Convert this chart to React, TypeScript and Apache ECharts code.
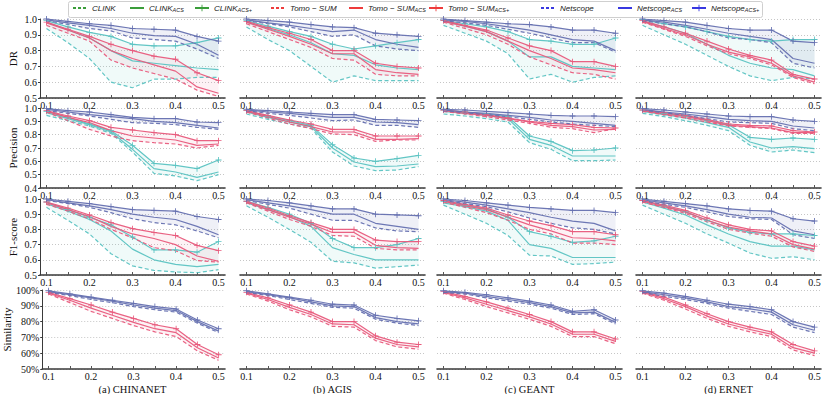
import React, { useEffect, useRef } from 'react';
import * as echarts from 'echarts';

// ---------- shared axes ----------
const X = [0.1, 0.15, 0.2, 0.25, 0.3, 0.35, 0.4, 0.45, 0.5];
const X_LABELS = [0.1, 0.2, 0.3, 0.4, 0.5];
const NETWORKS = ['(a) CHINANET', '(b) AGIS', '(c) GEANT', '(d) ERNET'];
const METRICS = ['DR', 'Precision', 'F1-score', 'Similarity'];
const Y_MIN = [0.5, 0.4, 0.5, 0.5];
const LEGEND_NAMES = [
  'CLINK', 'CLINK_ACS', 'CLINK_ACS+',
  'Tomo − SUM', 'Tomo − SUM_ACS', 'Tomo − SUM_ACS+',
  'Netscope', 'Netscope_ACS', 'Netscope_ACS+',
];

// ---------- DR ----------
const drChinanet = {
  clink: [0.94, 0.85, 0.75, 0.6, 0.565, 0.62, 0.62, 0.63, 0.63],
  clinkAcs: [0.98, 0.93, 0.88, 0.8, 0.735, 0.72, 0.705, 0.69, 0.68],
  clinkAcsPlus: [0.99, 0.95, 0.915, 0.89, 0.84, 0.83, 0.83, 0.85, 0.88],
  tomo: [0.96, 0.91, 0.86, 0.74, 0.69, 0.655, 0.62, 0.55, 0.51],
  tomoAcs: [0.975, 0.93, 0.88, 0.8, 0.75, 0.71, 0.67, 0.57, 0.53],
  tomoAcsPlus: [0.98, 0.935, 0.89, 0.84, 0.8, 0.765, 0.745, 0.66, 0.61],
  net: [0.99, 0.965, 0.94, 0.925, 0.88, 0.87, 0.86, 0.81, 0.75],
  netAcs: [0.995, 0.975, 0.96, 0.94, 0.91, 0.895, 0.89, 0.84, 0.77],
  netAcsPlus: [1.0, 0.985, 0.97, 0.96, 0.94, 0.935, 0.93, 0.89, 0.86],
};
const drAgis = {
  clink: [0.95, 0.87, 0.8, 0.7, 0.6, 0.64, 0.61, 0.61, 0.61],
  clinkAcs: [0.98, 0.94, 0.9, 0.85, 0.78, 0.77, 0.71, 0.69, 0.68],
  clinkAcsPlus: [0.99, 0.955, 0.92, 0.89, 0.84, 0.81, 0.83, 0.85, 0.87],
  tomo: [0.97, 0.92, 0.87, 0.82, 0.75, 0.74, 0.65, 0.64, 0.64],
  tomoAcs: [0.98, 0.935, 0.89, 0.84, 0.78, 0.78, 0.68, 0.66, 0.65],
  tomoAcsPlus: [0.985, 0.945, 0.91, 0.87, 0.8, 0.8, 0.72, 0.7, 0.69],
  net: [0.99, 0.97, 0.95, 0.92, 0.89, 0.9, 0.83, 0.81, 0.8],
  netAcs: [0.995, 0.975, 0.96, 0.94, 0.92, 0.93, 0.87, 0.84, 0.82],
  netAcsPlus: [1.0, 0.99, 0.98, 0.965, 0.95, 0.945, 0.91, 0.9, 0.89],
};
const drGeant = {
  clink: [0.96, 0.91, 0.86, 0.78, 0.62, 0.65, 0.6, 0.63, 0.64],
  clinkAcs: [0.985, 0.955, 0.92, 0.86, 0.76, 0.76, 0.7, 0.69, 0.68],
  clinkAcsPlus: [0.99, 0.97, 0.95, 0.92, 0.87, 0.86, 0.84, 0.84, 0.88],
  tomo: [0.98, 0.94, 0.9, 0.84, 0.76, 0.71, 0.66, 0.65, 0.62],
  tomoAcs: [0.985, 0.955, 0.92, 0.86, 0.8, 0.75, 0.69, 0.68, 0.66],
  tomoAcsPlus: [0.99, 0.96, 0.93, 0.88, 0.83, 0.8, 0.73, 0.73, 0.7],
  net: [0.99, 0.975, 0.96, 0.935, 0.91, 0.88, 0.85, 0.85, 0.79],
  netAcs: [0.995, 0.985, 0.97, 0.95, 0.93, 0.9, 0.87, 0.86, 0.8],
  netAcsPlus: [1.0, 0.99, 0.98, 0.97, 0.965, 0.95, 0.93, 0.93, 0.91],
};
const drErnet = {
  clink: [0.96, 0.9, 0.84, 0.77, 0.7, 0.64, 0.61, 0.63, 0.62],
  clinkAcs: [0.985, 0.95, 0.91, 0.84, 0.77, 0.72, 0.69, 0.68, 0.64],
  clinkAcsPlus: [0.995, 0.97, 0.95, 0.92, 0.89, 0.87, 0.86, 0.87, 0.87],
  tomo: [0.98, 0.935, 0.89, 0.83, 0.78, 0.75, 0.71, 0.63, 0.59],
  tomoAcs: [0.985, 0.94, 0.9, 0.84, 0.79, 0.76, 0.72, 0.64, 0.6],
  tomoAcsPlus: [0.99, 0.95, 0.91, 0.86, 0.81, 0.77, 0.74, 0.65, 0.62],
  net: [0.99, 0.97, 0.95, 0.92, 0.88, 0.87, 0.85, 0.72, 0.69],
  netAcs: [0.995, 0.98, 0.96, 0.935, 0.91, 0.89, 0.87, 0.75, 0.72],
  netAcsPlus: [1.0, 0.99, 0.98, 0.96, 0.94, 0.93, 0.93, 0.86, 0.85],
};

// ---------- Precision ----------
const prChinanet = {
  clink: [0.945, 0.905, 0.865, 0.81, 0.67, 0.51, 0.49, 0.455, 0.5],
  clinkAcs: [0.965, 0.92, 0.875, 0.82, 0.69, 0.545, 0.52, 0.48, 0.52],
  clinkAcsPlus: [0.975, 0.93, 0.88, 0.83, 0.72, 0.585, 0.57, 0.545, 0.61],
  tomo: [0.97, 0.905, 0.84, 0.79, 0.755, 0.74, 0.73, 0.7, 0.72],
  tomoAcs: [0.975, 0.93, 0.89, 0.83, 0.79, 0.775, 0.76, 0.72, 0.73],
  tomoAcsPlus: [0.98, 0.94, 0.905, 0.855, 0.835, 0.815, 0.8, 0.755, 0.755],
  net: [0.98, 0.96, 0.94, 0.915, 0.89, 0.885, 0.875, 0.855, 0.84],
  netAcs: [0.99, 0.97, 0.95, 0.935, 0.92, 0.9, 0.89, 0.87, 0.85],
  netAcsPlus: [0.995, 0.98, 0.97, 0.95, 0.93, 0.92, 0.92, 0.895, 0.89],
};
const prAgis = {
  clink: [0.955, 0.915, 0.88, 0.85, 0.67, 0.565, 0.53, 0.535, 0.56],
  clinkAcs: [0.97, 0.93, 0.895, 0.86, 0.7, 0.595, 0.56, 0.565, 0.58],
  clinkAcsPlus: [0.98, 0.94, 0.905, 0.87, 0.725, 0.625, 0.6, 0.62, 0.645],
  tomo: [0.97, 0.925, 0.88, 0.845, 0.805, 0.8, 0.75, 0.76, 0.76],
  tomoAcs: [0.975, 0.935, 0.895, 0.86, 0.82, 0.82, 0.765, 0.765, 0.77],
  tomoAcsPlus: [0.98, 0.945, 0.91, 0.88, 0.84, 0.84, 0.79, 0.79, 0.79],
  net: [0.98, 0.96, 0.945, 0.925, 0.905, 0.91, 0.87, 0.87, 0.855],
  netAcs: [0.985, 0.97, 0.96, 0.945, 0.93, 0.93, 0.895, 0.89, 0.875],
  netAcsPlus: [0.99, 0.98, 0.97, 0.96, 0.95, 0.95, 0.915, 0.91, 0.905],
};
const prGeant = {
  clink: [0.955, 0.94, 0.92, 0.895, 0.74, 0.69, 0.605, 0.605, 0.61],
  clinkAcs: [0.975, 0.96, 0.945, 0.92, 0.765, 0.72, 0.64, 0.64, 0.64],
  clinkAcsPlus: [0.985, 0.97, 0.955, 0.935, 0.79, 0.75, 0.68, 0.685, 0.7],
  tomo: [0.975, 0.955, 0.935, 0.91, 0.885, 0.855, 0.845, 0.815, 0.845],
  tomoAcs: [0.98, 0.96, 0.945, 0.92, 0.895, 0.87, 0.86, 0.835, 0.84],
  tomoAcsPlus: [0.985, 0.97, 0.95, 0.925, 0.9, 0.885, 0.875, 0.855, 0.85],
  net: [0.98, 0.965, 0.95, 0.935, 0.915, 0.895, 0.88, 0.87, 0.86],
  netAcs: [0.985, 0.97, 0.96, 0.945, 0.93, 0.91, 0.9, 0.885, 0.87],
  netAcsPlus: [0.99, 0.985, 0.975, 0.965, 0.955, 0.945, 0.94, 0.94, 0.935],
};
const prErnet = {
  clink: [0.96, 0.935, 0.905, 0.87, 0.83, 0.72, 0.67, 0.685, 0.665],
  clinkAcs: [0.975, 0.95, 0.925, 0.89, 0.855, 0.745, 0.7, 0.71, 0.695],
  clinkAcsPlus: [0.985, 0.96, 0.94, 0.91, 0.875, 0.78, 0.765, 0.775, 0.765],
  tomo: [0.975, 0.95, 0.925, 0.895, 0.865, 0.855, 0.845, 0.81, 0.81],
  tomoAcs: [0.98, 0.955, 0.935, 0.905, 0.87, 0.86, 0.85, 0.815, 0.815],
  tomoAcsPlus: [0.985, 0.965, 0.945, 0.915, 0.88, 0.87, 0.865, 0.83, 0.82],
  net: [0.985, 0.965, 0.945, 0.92, 0.895, 0.89, 0.885, 0.845, 0.83],
  netAcs: [0.99, 0.97, 0.955, 0.935, 0.915, 0.905, 0.9, 0.865, 0.85],
  netAcsPlus: [0.995, 0.985, 0.97, 0.955, 0.94, 0.935, 0.935, 0.91, 0.9],
};

// ---------- F1-score ----------
const f1Chinanet = {
  clink: [0.945, 0.86, 0.77, 0.64, 0.56, 0.53, 0.52, 0.515, 0.535],
  clinkAcs: [0.97, 0.92, 0.865, 0.79, 0.67, 0.6, 0.57, 0.555, 0.57],
  clinkAcsPlus: [0.98, 0.93, 0.88, 0.83, 0.75, 0.665, 0.665, 0.65, 0.72],
  tomo: [0.965, 0.92, 0.87, 0.8, 0.745, 0.68, 0.66, 0.595, 0.585],
  tomoAcs: [0.975, 0.93, 0.885, 0.82, 0.77, 0.74, 0.7, 0.625, 0.59],
  tomoAcsPlus: [0.98, 0.94, 0.895, 0.845, 0.805, 0.78, 0.76, 0.695, 0.66],
  net: [0.99, 0.97, 0.945, 0.91, 0.87, 0.845, 0.83, 0.79, 0.745],
  netAcs: [0.995, 0.975, 0.955, 0.93, 0.9, 0.88, 0.865, 0.82, 0.765],
  netAcsPlus: [1.0, 0.985, 0.97, 0.95, 0.93, 0.925, 0.92, 0.885, 0.865],
};
const f1Agis = {
  clink: [0.955, 0.88, 0.8, 0.715, 0.59, 0.58, 0.545, 0.555, 0.565],
  clinkAcs: [0.975, 0.93, 0.885, 0.82, 0.68, 0.635, 0.6, 0.6, 0.6],
  clinkAcsPlus: [0.985, 0.945, 0.9, 0.84, 0.74, 0.68, 0.68, 0.7, 0.74],
  tomo: [0.975, 0.92, 0.865, 0.82, 0.76, 0.755, 0.675, 0.665, 0.665],
  tomoAcs: [0.98, 0.93, 0.88, 0.835, 0.78, 0.78, 0.695, 0.68, 0.675],
  tomoAcsPlus: [0.985, 0.94, 0.89, 0.845, 0.8, 0.8, 0.73, 0.72, 0.72],
  net: [0.99, 0.965, 0.94, 0.9, 0.86, 0.86, 0.81, 0.79, 0.785],
  netAcs: [0.995, 0.975, 0.955, 0.93, 0.9, 0.9, 0.84, 0.82, 0.8],
  netAcsPlus: [1.0, 0.99, 0.975, 0.955, 0.935, 0.935, 0.9, 0.895, 0.89],
};
const f1Geant = {
  clink: [0.96, 0.9, 0.84, 0.76, 0.63, 0.625, 0.57, 0.575, 0.585],
  clinkAcs: [0.975, 0.95, 0.92, 0.86, 0.7, 0.675, 0.615, 0.615, 0.615],
  clinkAcsPlus: [0.985, 0.96, 0.935, 0.88, 0.785, 0.755, 0.715, 0.725, 0.755],
  tomo: [0.98, 0.945, 0.91, 0.86, 0.8, 0.77, 0.71, 0.71, 0.7],
  tomoAcs: [0.985, 0.955, 0.93, 0.88, 0.83, 0.79, 0.745, 0.74, 0.725],
  tomoAcsPlus: [0.99, 0.965, 0.94, 0.895, 0.855, 0.825, 0.785, 0.785, 0.765],
  net: [0.99, 0.97, 0.95, 0.915, 0.875, 0.84, 0.81, 0.8, 0.77],
  netAcs: [0.995, 0.98, 0.96, 0.935, 0.91, 0.88, 0.855, 0.84, 0.79],
  netAcsPlus: [1.0, 0.99, 0.975, 0.96, 0.945, 0.935, 0.925, 0.925, 0.91],
};
const f1Ernet = {
  clink: [0.96, 0.9, 0.84, 0.77, 0.71, 0.645, 0.61, 0.62, 0.6],
  clinkAcs: [0.98, 0.94, 0.895, 0.83, 0.77, 0.72, 0.69, 0.69, 0.665],
  clinkAcsPlus: [0.99, 0.955, 0.915, 0.86, 0.81, 0.78, 0.77, 0.77, 0.76],
  tomo: [0.98, 0.945, 0.905, 0.85, 0.8, 0.775, 0.755, 0.685, 0.655],
  tomoAcs: [0.985, 0.95, 0.915, 0.86, 0.815, 0.79, 0.77, 0.7, 0.67],
  tomoAcsPlus: [0.99, 0.96, 0.925, 0.875, 0.83, 0.8, 0.79, 0.72, 0.69],
  net: [0.99, 0.965, 0.945, 0.915, 0.885, 0.87, 0.865, 0.765, 0.74],
  netAcs: [0.995, 0.975, 0.955, 0.93, 0.9, 0.88, 0.875, 0.79, 0.765],
  netAcsPlus: [1.0, 0.985, 0.97, 0.955, 0.935, 0.925, 0.92, 0.87, 0.855],
};

// ---------- Similarity ----------
const smChinanet = {
  tomo: [0.975, 0.92, 0.865, 0.82, 0.775, 0.735, 0.705, 0.615, 0.555],
  tomoAcs: [0.98, 0.935, 0.885, 0.84, 0.795, 0.755, 0.73, 0.635, 0.57],
  tomoAcsPlus: [0.985, 0.945, 0.905, 0.86, 0.82, 0.78, 0.755, 0.655, 0.59],
  net: [0.985, 0.965, 0.94, 0.92, 0.895, 0.875, 0.86, 0.79, 0.73],
  netAcs: [0.99, 0.97, 0.95, 0.93, 0.905, 0.885, 0.87, 0.8, 0.74],
  netAcsPlus: [0.995, 0.975, 0.955, 0.935, 0.915, 0.895, 0.88, 0.81, 0.755],
};
const smAgis = {
  tomo: [0.975, 0.93, 0.875, 0.83, 0.77, 0.765, 0.68, 0.64, 0.625],
  tomoAcs: [0.98, 0.94, 0.89, 0.845, 0.785, 0.78, 0.695, 0.655, 0.64],
  tomoAcsPlus: [0.985, 0.95, 0.905, 0.86, 0.8, 0.8, 0.71, 0.67, 0.655],
  net: [0.985, 0.965, 0.94, 0.915, 0.89, 0.885, 0.815, 0.79, 0.775],
  netAcs: [0.99, 0.97, 0.95, 0.925, 0.9, 0.895, 0.825, 0.8, 0.785],
  netAcsPlus: [0.995, 0.975, 0.955, 0.935, 0.91, 0.905, 0.84, 0.82, 0.805],
};
const smGeant = {
  tomo: [0.98, 0.94, 0.895, 0.855, 0.815, 0.77, 0.705, 0.705, 0.66],
  tomoAcs: [0.985, 0.95, 0.91, 0.87, 0.83, 0.785, 0.72, 0.72, 0.675],
  tomoAcsPlus: [0.99, 0.96, 0.925, 0.885, 0.845, 0.8, 0.735, 0.735, 0.69],
  net: [0.985, 0.975, 0.95, 0.93, 0.91, 0.885, 0.845, 0.85, 0.785],
  netAcs: [0.99, 0.98, 0.96, 0.94, 0.92, 0.895, 0.855, 0.86, 0.795],
  netAcsPlus: [0.995, 0.985, 0.97, 0.95, 0.93, 0.905, 0.865, 0.875, 0.81],
};
const smErnet = {
  tomo: [0.98, 0.935, 0.88, 0.82, 0.77, 0.735, 0.705, 0.62, 0.585],
  tomoAcs: [0.985, 0.945, 0.895, 0.835, 0.785, 0.75, 0.72, 0.635, 0.6],
  tomoAcsPlus: [0.99, 0.955, 0.905, 0.85, 0.8, 0.765, 0.735, 0.655, 0.615],
  net: [0.985, 0.96, 0.94, 0.915, 0.885, 0.865, 0.845, 0.765, 0.73],
  netAcs: [0.99, 0.97, 0.95, 0.925, 0.895, 0.88, 0.86, 0.78, 0.745],
  netAcsPlus: [0.995, 0.98, 0.96, 0.935, 0.91, 0.895, 0.875, 0.8, 0.765],
};

const PANELS: Record<string, number[]>[][] = [
  [drChinanet, drAgis, drGeant, drErnet],
  [prChinanet, prAgis, prGeant, prErnet],
  [f1Chinanet, f1Agis, f1Geant, f1Ernet],
  [smChinanet, smAgis, smGeant, smErnet],
];

// ---------- styling ----------
const TEAL = '#5bc3c2';
const RED = '#e85a7c';
const BLUE = '#6570b0';
const LEG_COLORS = ['#3a9d3a', '#3a9d3a', '#3a9d3a', '#ee3b3b', '#ee3b3b', '#ee3b3b', '#3838e0', '#3838e0', '#3838e0'];
const PLUS = 'path://M4.3,0 H5.7 V4.3 H10 V5.7 H5.7 V10 H4.3 V5.7 H0 V4.3 H4.3 Z';
const METHODS = [
  { key: 'clink', color: TEAL, dash: true, plus: false },
  { key: 'clinkAcs', color: TEAL, dash: false, plus: false },
  { key: 'clinkAcsPlus', color: TEAL, dash: false, plus: true },
  { key: 'tomo', color: RED, dash: true, plus: false },
  { key: 'tomoAcs', color: RED, dash: false, plus: false },
  { key: 'tomoAcsPlus', color: RED, dash: false, plus: true },
  { key: 'net', color: BLUE, dash: true, plus: false },
  { key: 'netAcs', color: BLUE, dash: false, plus: false },
  { key: 'netAcsPlus', color: BLUE, dash: false, plus: true },
];
const BANDS = [
  { lo: 'clink', hi: 'clinkAcsPlus', fill: 'rgba(91,195,194,0.09)' },
  { lo: 'tomo', hi: 'tomoAcsPlus', fill: 'rgba(232,90,124,0.08)' },
  { lo: 'net', hi: 'netAcsPlus', fill: 'rgba(101,112,176,0.10)' },
];
const LEG_LEFT = [72, 129, 194, 270, 348, 428, 540, 617, 691];
const COL_LEFT = [40, 240, 437, 636];
const COL_W = 185;
const ROW_TOP = [19, 108, 199, 290];
const ROW_H = [79, 80, 76, 79];
const NAME_GAP = [22, 22, 22, 28];
const SERIF = '"Liberation Serif", "DejaVu Serif", serif';

function buildOption() {
  const grid: any[] = [];
  const xAxis: any[] = [];
  const yAxis: any[] = [];
  const series: any[] = [];
  const graphic: any[] = [];

  for (let r = 0; r < 4; r++) {
    for (let c = 0; c < 4; c++) {
      const idx = r * 4 + c;
      const panel = PANELS[r][c];
      grid.push({ left: COL_LEFT[c], top: ROW_TOP[r], width: COL_W, height: ROW_H[r] });
      xAxis.push({
        gridIndex: idx, type: 'value', min: 0.085, max: 0.515,
        axisLine: { show: true, onZero: false, lineStyle: { color: '#3a3a3a', width: 1.6 } },
        axisTick: { show: true, customValues: X, inside: true, length: 3, lineStyle: { color: '#555', width: 1 } },
        axisLabel: {
          customValues: X_LABELS, margin: 2, fontFamily: SERIF, fontSize: 10, color: '#111',
          formatter: (v: number) => v.toFixed(1),
        },
        splitLine: { show: false },
      });
      yAxis.push({
        gridIndex: idx, type: 'value', min: Y_MIN[r], max: 1, interval: 0.1,
        axisLine: { show: c === 0, lineStyle: { color: '#3a3a3a', width: 1 } },
        axisTick: { show: c === 0, length: 2, lineStyle: { color: '#3a3a3a' } },
        axisLabel: {
          show: c === 0, margin: 3, fontFamily: SERIF, fontSize: 10, color: '#111',
          formatter: r === 3 ? (v: number) => `${Math.round(v * 100)}%` : (v: number) => v.toFixed(1),
        },
        splitLine: { show: true, lineStyle: { type: [1, 2], color: '#b8b8b8', width: 0.8 } },
        name: c === 0 ? METRICS[r] : '',
        nameLocation: 'middle', nameGap: NAME_GAP[r], nameRotate: 90,
        nameTextStyle: { fontFamily: SERIF, fontSize: 11, color: '#111' },
      });

      // shaded bands between lowest and highest variant of each method
      BANDS.forEach((b) => {
        const lo = panel[b.lo];
        const hi = panel[b.hi];
        if (!lo || !hi) return;
        series.push({
          type: 'custom', name: `band-${idx}-${b.lo}`, xAxisIndex: idx, yAxisIndex: idx,
          silent: true, z: 1, data: [[X[0], lo[0]]],
          renderItem: (_p: any, api: any) => {
            const top = X.map((x, k) => api.coord([x, hi[k]]));
            const bot = X.map((x, k) => api.coord([x, lo[k]])).reverse();
            return { type: 'polygon', shape: { points: top.concat(bot) }, style: { fill: b.fill } };
          },
        });
      });

      METHODS.forEach((m) => {
        const vals = panel[m.key];
        if (!vals) return;
        series.push({
          type: 'line', name: `s-${idx}-${m.key}`, xAxisIndex: idx, yAxisIndex: idx,
          data: X.map((x, k) => [x, vals[k]]),
          symbol: m.plus ? PLUS : 'none', symbolSize: 6, showSymbol: m.plus,
          itemStyle: { color: m.color },
          lineStyle: { color: m.color, width: 1.2, type: m.dash ? [4, 2.5] : 'solid', opacity: 0.95 },
          silent: true, z: 3,
        });
      });
    }
  }

  // legend-only series
  LEGEND_NAMES.forEach((name, i) => {
    const dash = i % 3 === 0;
    const plus = i % 3 === 2;
    series.push({
      type: 'line', name, xAxisIndex: 0, yAxisIndex: 0, data: [],
      symbol: plus ? PLUS : 'none', symbolSize: 6,
      itemStyle: { color: LEG_COLORS[i] },
      lineStyle: { color: LEG_COLORS[i], width: 1.3, type: dash ? [3, 2] : 'solid' },
    });
  });

  const legend = LEGEND_NAMES.map((name, i) => ({
    data: [name], left: LEG_LEFT[i], top: 4, padding: 0, itemGap: 0,
    itemWidth: 14, itemHeight: 8, selectedMode: false,
    itemStyle: { opacity: i % 3 === 2 ? 1 : 0 },
    formatter: (n: string) => {
      const [b, s] = n.split('_');
      return s ? `{n|${b}}{s|${s}}` : `{n|${b}}`;
    },
    textStyle: {
      rich: {
        n: { fontSize: 8, fontStyle: 'italic', fontFamily: '"Liberation Sans", Arial, sans-serif', color: '#222' },
        s: { fontSize: 5.5, fontStyle: 'italic', fontFamily: '"Liberation Sans", Arial, sans-serif', color: '#222', padding: [4, 0, 0, 0] },
      },
    },
  }));

  graphic.push({
    type: 'rect', left: 68, top: 1, z: -1,
    shape: { width: 694, height: 16, r: 2 },
    style: { fill: 'rgba(255,255,255,0.85)', stroke: '#cfcfcf', lineWidth: 1 },
  });
  NETWORKS.forEach((t, c) => {
    graphic.push({
      type: 'text', x: COL_LEFT[c] + COL_W / 2, y: 389,
      style: { text: t, textAlign: 'center', textVerticalAlign: 'middle', font: `10.5px ${SERIF}`, fill: '#111' },
    });
  });

  return { animation: false, backgroundColor: '#fff', grid, xAxis, yAxis, series, legend, graphic };
}

export default function App() {
  const ref = useRef<HTMLDivElement>(null);
  useEffect(() => {
    const chart = echarts.init(ref.current as HTMLDivElement, null, { renderer: 'svg' });
    chart.setOption(buildOption() as any);
    return () => chart.dispose();
  }, []);
  return <div ref={ref} style={{ position: 'absolute', left: 0, top: 0, width: 830, height: 394 }} />;
}
